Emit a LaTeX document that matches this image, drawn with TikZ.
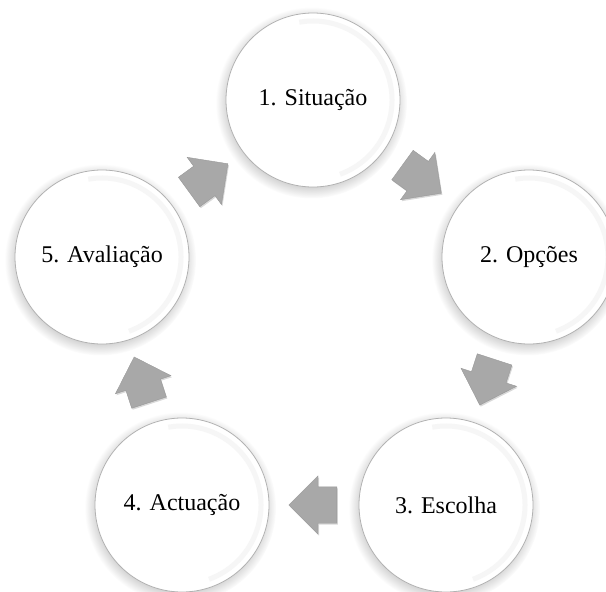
\documentclass[tikz,border=0pt]{standalone}
\usepackage{fontspec}
\setmainfont{Liberation Serif}
\usetikzlibrary{calc,shapes.arrows,shadows}
\tikzstyle{stage} = [circle, draw=gray!60, line width=0.8pt, fill=white, minimum size=174pt, inner sep=0pt, text centered, font=\fontsize{24}{28}\selectfont, circular drop shadow={shadow xshift=-1.5pt, shadow yshift=-2.5pt, opacity=0.4}, path picture={\draw[gray!7, line width=5pt] (path picture bounding box.center) ++(-70:79pt) arc (-70:100:79pt);}]
\tikzstyle{flow} = [single arrow, draw=gray!80, fill=gray!68, minimum height=48pt, inner xsep=0pt, inner ysep=18pt, single arrow head extend=11pt, drop shadow={shadow xshift=1pt, shadow yshift=-1.5pt, opacity=0.3}]

\begin{document}
\begin{tikzpicture}
            \path[use as bounding box, clip] (0,0) rectangle (606pt,-592pt);
            \node (sit) [stage] at (313pt,-100pt) {1. Situação};
            \node (opc) [stage] at (529pt,-257pt) {2. Opções};
            \node (esc) [stage] at (446pt,-505pt) {3. Escolha};
            \node (act) [stage] at (182pt,-505pt) {4. Actuação};
            \node (ava) [stage] at (102pt,-257pt) {5. Avaliação};
            \node (f12) [flow, rotate=-36] at ($(sit)!0.47!(opc)$) {};
            \node (f23) [flow, rotate=-108] at ($(opc)!0.47!(esc)$) {};
            \node (f34) [flow, rotate=180] at ($(esc)!0.47!(act)$) {};
            \node (f45) [flow, rotate=108] at ($(act)!0.47!(ava)$) {};
            \node (f51) [flow, rotate=36] at ($(ava)!0.47!(sit)$) {};
        \end{tikzpicture}
\end{document}
